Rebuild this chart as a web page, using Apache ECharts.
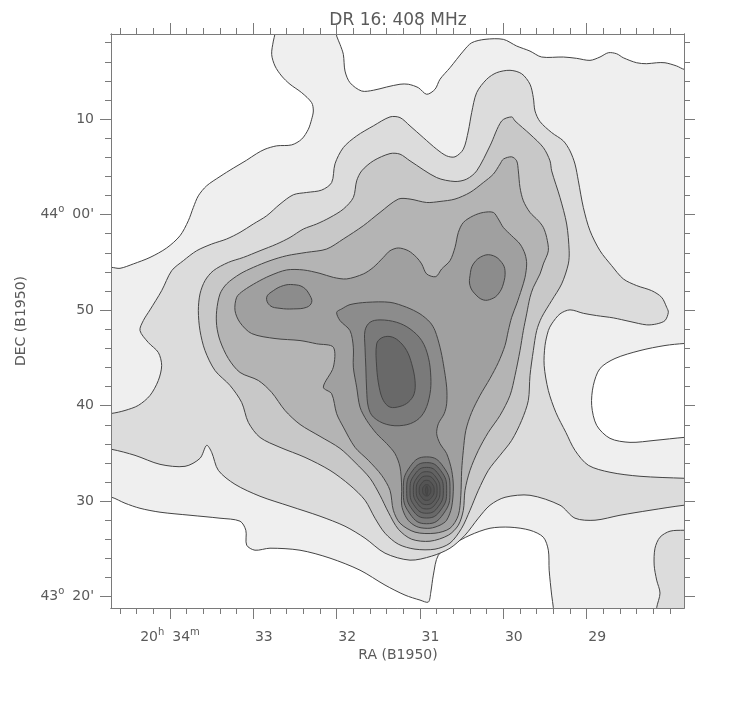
<!DOCTYPE html>
<html><head><meta charset="utf-8"><title>DR 16: 408 MHz</title>
<script src="https://cdn.jsdelivr.net/npm/echarts@6/dist/echarts.min.js"></script>
<style>html,body{margin:0;padding:0;background:#fff;}#chart{width:743px;height:716px;}</style>
</head><body><div id="chart"></div>
<script>
// ---- axes / ticks ----
const raMajor = [34, 33, 32, 31, 30, 29];
const raLabels = ['20h 34m', '33', '32', '31', '30', '29'];
const decMajor = [20, 30, 40, 50, 60, 70];           // arcmin above 43°00'
const decLabels = ["43° 20'", '30', '40', '50', "44° 00'", '10'];
const raMinor = []; for (let k = 140; k <= 173; k++) raMinor.push(k / 5);
const decMinor = []; for (let k = 10; k <= 39; k++) decMinor.push(2 * k);
const X_MIN = 27.832, X_MAX = 34.708, Y_MIN = 18.82, Y_MAX = 78.91;

// ---- contour level fills (0 = white background level) ----
const levelColors = ['#ffffff', '#efefef', '#dcdcdc', '#c8c8c8', '#b4b4b4', '#a0a0a0', '#8c8c8c',
  '#7a7a7a', '#696969', '#636363', '#5e5e5e', '#595959', '#545454', '#505050', '#4b4b4b'];

// ---- contour polygons [RA (min of time, 20h+), Dec (arcmin above 43°00')] ----
const white1 = [[34.80,79.8],[32.74,79.8],[32.74,78.95],[32.76,78.17],[32.78,76.78],[32.74,75.56],[32.66,74.51],[32.56,73.65],[32.42,72.77],[32.30,71.72],[32.28,70.85],[32.30,69.99],[32.34,68.94],[32.42,67.90],[32.54,67.30],[32.72,67.20],[32.86,66.85],[32.96,66.39],[33.08,65.70],[33.24,64.87],[33.40,63.99],[33.56,63.02],[33.66,61.97],[33.72,60.75],[33.78,59.36],[33.88,57.79],[34.04,56.51],[34.24,55.52],[34.44,54.84],[34.60,54.38],[34.70,54.48],[34.80,54.5]];
const white2 = [[32.00,79.8],[27.73,79.8],[27.73,75.21],[27.83,75.21],[27.92,75.56],[28.06,75.90],[28.16,75.90],[28.28,75.80],[28.40,75.90],[28.56,76.42],[28.64,76.84],[28.74,76.95],[28.84,76.50],[28.96,76.15],[29.12,76.36],[29.28,76.50],[29.54,76.50],[29.68,77.12],[29.84,77.65],[30.00,78.35],[30.22,78.35],[30.38,77.99],[30.48,77.12],[30.64,75.38],[30.76,74.17],[30.82,73.12],[30.92,72.60],[31.02,73.29],[31.14,73.65],[31.24,73.65],[31.40,73.36],[31.56,73.02],[31.70,72.94],[31.84,73.81],[31.90,75.03],[31.92,76.78],[31.96,77.83],[32.00,78.69],[32.00,78.95]];
const white3 = [[34.80,30.41],[34.70,30.41],[34.54,29.79],[34.36,29.26],[34.12,28.85],[33.76,28.53],[33.40,28.22],[33.16,27.91],[33.09,26.96],[33.08,25.40],[32.98,24.87],[32.80,25.08],[32.44,24.87],[32.08,24.04],[31.72,22.78],[31.42,21.22],[31.18,20.17],[31.00,19.65],[30.90,19.44],[30.87,20.49],[30.84,22.26],[30.78,24.35],[30.62,25.40],[30.40,26.44],[30.16,27.17],[29.92,27.28],[29.68,26.96],[29.52,26.23],[29.46,24.87],[29.45,22.78],[29.42,20.17],[29.40,18.85],[29.40,18.0],[34.80,18.0]];
const white4 = [[27.73,46.51],[27.83,46.51],[28.06,46.30],[28.36,45.77],[28.66,44.94],[28.84,43.89],[28.92,42.12],[28.94,40.03],[28.88,37.94],[28.72,36.58],[28.48,36.16],[28.18,36.37],[27.83,36.68],[27.73,36.68]];
const level2a = [[34.80,39.19],[34.70,39.19],[34.54,39.50],[34.38,40.03],[34.24,41.07],[34.14,42.64],[34.10,44.21],[34.14,45.57],[34.26,46.61],[34.36,47.86],[34.32,48.91],[34.24,50.03],[34.10,52.04],[33.98,54.13],[33.84,55.18],[33.68,56.22],[33.50,56.92],[33.32,57.45],[33.16,58.14],[33.00,59.02],[32.84,59.88],[32.68,61.10],[32.52,62.08],[32.36,62.32],[32.18,62.57],[32.06,63.36],[32.02,65.32],[31.92,67.02],[31.76,68.24],[31.56,69.29],[31.36,70.23],[31.24,70.16],[31.12,69.29],[30.96,68.06],[30.80,66.85],[30.68,66.15],[30.58,66.05],[30.48,66.85],[30.42,68.76],[30.38,70.68],[30.32,72.77],[30.20,74.17],[30.08,74.86],[29.92,75.11],[29.78,74.75],[29.68,73.65],[29.64,72.24],[29.62,70.85],[29.56,69.74],[29.42,68.59],[29.28,67.72],[29.20,66.67],[29.14,65.29],[29.10,63.54],[29.04,60.75],[28.96,58.31],[28.84,56.22],[28.70,54.66],[28.56,53.27],[28.40,52.57],[28.22,52.04],[28.10,51.34],[28.04,50.30],[28.02,49.78],[28.06,48.91],[28.16,48.56],[28.28,48.46],[28.48,48.81],[28.68,49.19],[28.88,49.43],[29.04,49.67],[29.20,50.03],[29.32,49.61],[29.42,48.56],[29.46,47.86],[29.50,46.30],[29.51,44.21],[29.46,41.59],[29.37,39.30],[29.25,37.21],[29.14,35.32],[28.98,33.76],[28.72,33.03],[28.36,32.61],[27.83,32.40],[27.73,32.40],[27.73,29.58],[27.83,29.58],[28.24,29.05],[28.60,28.53],[28.90,28.01],[29.14,28.22],[29.32,29.58],[29.68,30.62],[29.98,30.41],[30.16,29.58],[30.30,28.22],[30.46,26.44],[30.64,25.08],[30.86,24.25],[31.12,23.83],[31.42,24.56],[31.66,26.13],[31.90,27.38],[32.20,28.43],[32.56,29.47],[32.92,30.52],[33.22,31.77],[33.42,33.23],[33.50,35.12],[33.56,35.85],[33.64,34.49],[33.82,33.65],[34.12,33.86],[34.42,34.80],[34.70,35.43],[34.80,35.43]];
const level2b = [[27.73,26.96],[27.83,26.96],[28.00,26.86],[28.12,26.23],[28.18,25.08],[28.19,23.31],[28.16,21.74],[28.12,20.38],[28.16,18.85],[28.16,18.0],[27.73,18.0]];
const level3 = [[33.66,49.95],[33.64,51.70],[33.58,53.09],[33.48,54.13],[33.30,55.00],[33.12,55.52],[32.92,56.22],[32.72,56.92],[32.56,57.61],[32.40,58.49],[32.24,59.02],[32.08,59.70],[31.92,60.58],[31.80,61.79],[31.76,63.54],[31.70,64.58],[31.56,65.63],[31.36,66.39],[31.24,66.33],[31.12,65.63],[30.80,63.88],[30.58,63.47],[30.44,63.72],[30.32,64.58],[30.16,67.20],[30.02,69.81],[29.90,70.23],[29.86,69.81],[29.68,68.42],[29.52,67.02],[29.44,65.63],[29.42,64.58],[29.32,61.79],[29.24,59.02],[29.21,56.22],[29.22,54.84],[29.30,52.75],[29.42,51.00],[29.54,49.25],[29.60,47.86],[29.64,45.77],[29.68,43.16],[29.70,40.55],[29.78,38.46],[29.90,36.37],[30.04,34.80],[30.18,33.23],[30.30,31.14],[30.40,29.05],[30.50,27.17],[30.64,25.61],[30.82,24.98],[31.06,24.98],[31.26,25.50],[31.42,26.65],[31.54,28.22],[31.66,30.10],[31.84,31.67],[32.08,33.23],[32.38,34.59],[32.68,35.64],[32.92,36.68],[33.06,38.25],[33.14,40.34],[33.28,42.12],[33.46,43.68],[33.58,45.77],[33.64,47.86]];
const level4 = [[33.44,49.95],[33.40,51.70],[33.32,52.75],[33.16,53.79],[33.00,54.48],[32.80,55.18],[32.60,55.70],[32.36,56.05],[32.12,56.40],[31.92,57.45],[31.68,58.84],[31.48,60.23],[31.26,61.63],[31.12,61.63],[30.92,61.27],[30.76,61.38],[30.58,61.63],[30.40,62.32],[30.24,63.36],[30.12,64.24],[30.04,65.29],[30.00,65.81],[29.90,66.05],[29.84,65.63],[29.82,64.58],[29.80,62.84],[29.76,61.45],[29.68,60.23],[29.58,59.36],[29.52,58.66],[29.48,57.61],[29.46,56.22],[29.52,54.84],[29.56,53.79],[29.64,52.39],[29.68,51.35],[29.72,49.61],[29.76,47.86],[29.80,45.77],[29.86,43.16],[29.92,41.07],[30.04,38.98],[30.18,37.21],[30.30,35.32],[30.40,33.23],[30.46,31.14],[30.48,29.05],[30.54,27.49],[30.66,26.44],[30.88,25.81],[31.10,26.02],[31.26,27.07],[31.38,28.85],[31.48,30.62],[31.60,32.40],[31.78,34.07],[31.96,35.53],[32.20,36.79],[32.44,38.04],[32.62,39.50],[32.78,41.39],[32.94,42.64],[33.16,43.48],[33.30,44.94],[33.40,46.82],[33.44,48.39]];
const level5 = [[33.22,49.95],[33.20,51.35],[33.12,52.04],[32.96,52.91],[32.80,53.61],[32.60,54.21],[32.40,54.21],[32.20,53.85],[32.04,53.43],[31.88,53.27],[31.68,53.79],[31.56,54.48],[31.44,55.52],[31.36,56.22],[31.26,56.51],[31.14,56.22],[31.04,55.52],[30.98,54.84],[30.92,53.79],[30.81,53.51],[30.74,54.31],[30.64,55.18],[30.58,56.57],[30.54,58.14],[30.48,59.18],[30.36,59.88],[30.24,60.23],[30.12,60.23],[30.06,59.54],[30.00,58.66],[29.90,57.79],[29.80,56.92],[29.74,55.88],[29.72,54.84],[29.74,53.43],[29.78,52.22],[29.84,50.65],[29.90,49.25],[29.94,47.86],[29.98,46.30],[30.06,44.52],[30.16,42.85],[30.28,41.07],[30.38,39.30],[30.45,37.42],[30.48,35.32],[30.50,33.23],[30.51,30.62],[30.54,28.53],[30.64,27.17],[30.82,26.65],[31.06,26.76],[31.24,27.70],[31.32,29.05],[31.36,31.14],[31.46,32.71],[31.62,34.28],[31.78,35.64],[31.92,37.76],[32.00,39.16],[32.06,41.25],[32.16,41.94],[32.04,44.03],[32.04,46.12],[32.24,46.48],[32.44,46.82],[32.74,47.03],[33.02,47.55],[33.16,48.70]];
const level6a = [[32.84,51.35],[32.76,52.04],[32.64,52.57],[32.52,52.67],[32.40,52.39],[32.32,51.52],[32.30,50.82],[32.36,50.30],[32.52,50.13],[32.68,50.19],[32.80,50.48]];
const level6b = [[30.40,53.61],[30.36,54.84],[30.24,55.70],[30.12,55.70],[30.02,55.00],[29.98,54.13],[30.00,52.75],[30.06,51.70],[30.14,51.18],[30.24,51.07],[30.34,51.70],[30.40,52.57]];
const level6c = [[32.00,49.78],[31.94,50.13],[31.84,50.58],[31.64,50.82],[31.36,50.82],[31.16,50.30],[31.00,49.61],[30.88,48.73],[30.82,47.86],[30.76,46.12],[30.72,44.39],[30.68,41.94],[30.68,40.20],[30.71,39.16],[30.78,38.11],[30.80,37.07],[30.76,36.03],[30.68,34.98],[30.62,33.23],[30.60,31.49],[30.62,29.40],[30.68,28.01],[30.76,27.49],[30.88,27.17],[31.02,27.28],[31.12,27.80],[31.18,28.53],[31.22,29.58],[31.22,31.49],[31.24,33.58],[31.30,34.98],[31.40,36.03],[31.52,37.07],[31.64,38.46],[31.72,39.85],[31.76,41.94],[31.80,44.03],[31.80,46.12],[31.84,47.86],[31.96,48.91]];
const level7a = [[31.66,47.86],[31.60,48.73],[31.48,48.98],[31.28,48.73],[31.12,48.04],[30.98,46.82],[30.90,45.07],[30.87,42.98],[30.88,41.25],[30.94,39.50],[31.04,38.46],[31.20,37.94],[31.40,38.04],[31.56,38.81],[31.62,39.85],[31.64,41.60],[31.65,44.03],[31.66,46.12]];
const level8a = [[31.52,46.48],[31.46,47.10],[31.36,47.24],[31.26,46.82],[31.16,45.77],[31.10,44.39],[31.06,42.64],[31.07,41.25],[31.14,40.37],[31.24,39.92],[31.36,39.85],[31.44,40.55],[31.49,41.94],[31.52,44.03]];
// compact source rings
const ring7 = [[30.92,34.64],[30.72,33.61],[30.64,31.14],[30.72,28.67],[30.92,27.64],[31.12,28.67],[31.20,31.14],[31.12,33.61]];
const ring8 = [[30.92,34.04],[30.75,33.19],[30.68,31.14],[30.75,29.09],[30.92,28.24],[31.09,29.09],[31.16,31.14],[31.09,33.19]];
const ring9 = [[30.92,33.54],[30.78,32.84],[30.72,31.14],[30.78,29.44],[30.92,28.74],[31.06,29.44],[31.12,31.14],[31.06,32.84]];
const ring10 = [[30.92,33.09],[30.81,32.52],[30.76,31.14],[30.81,29.76],[30.92,29.19],[31.03,29.76],[31.08,31.14],[31.03,32.52]];
const ring11 = [[30.92,32.64],[30.83,32.20],[30.795,31.14],[30.83,30.08],[30.92,29.64],[31.01,30.08],[31.045,31.14],[31.01,32.20]];
const ring12 = [[30.92,32.19],[30.86,31.88],[30.83,31.14],[30.86,30.40],[30.92,30.09],[30.98,30.40],[31.01,31.14],[30.98,31.88]];
const ring13 = [[30.92,31.74],[30.885,31.56],[30.87,31.14],[30.885,30.72],[30.92,30.54],[30.955,30.72],[30.97,31.14],[30.955,31.56]];
const ring14 = [[30.92,31.6],[30.905,31.14],[30.92,30.6],[30.935,31.14]];

const polys = [
  [white1, 0, 0.3], [white2, 0, 0.3], [white3, 0, 0.3], [white4, 0, 0.3],
  [level2a, 2, 0.3], [level2b, 2, 0.3], [level3, 3, 0.3], [level4, 4, 0.3], [level5, 5, 0.3],
  [level6a, 6, 0.4], [level6b, 6, 0.4], [level6c, 6, 0.3], [level7a, 7, 0.35], [level8a, 8, 0.35],
  [ring7, 7, 0.5], [ring8, 8, 0.5], [ring9, 9, 0.5], [ring10, 10, 0.5], [ring11, 11, 0.5],
  [ring12, 12, 0.5], [ring13, 13, 0.5], [ring14, 14, 0.3]
];

const AX = '#7a7a7a', TXT = '#5a5a5a', LINE = '#444';
const FONT = 'DejaVu Sans';

function raFmt(v) {
  const lab = raLabels[raMajor.indexOf(v)];
  const m = /^(\d+)h (\d+)m$/.exec(lab);
  if (m) return '{n|' + m[1] + '}{s|h}{g|}{n|' + m[2] + '}{s|m}';
  return '{p|}{n|' + lab + '}';
}
function decFmt(v) {
  const lab = decLabels[decMajor.indexOf(Math.round(v))];
  const m = /^(\d+)° (.+)$/.exec(lab);
  if (m) return '{n|' + m[1] + '}{s|o}{g|}{n|' + m[2] + '}';
  return '{n|' + lab + '}';
}
const rich = {
  n: {fontSize: 14, fontFamily: FONT, color: TXT, lineHeight: 20},
  s: {fontSize: 10, fontFamily: FONT, color: TXT, lineHeight: 9, verticalAlign: 'top'},
  g: {width: 8},
  p: {width: 21}
};

function xAx(grid, pos, vals, len, label) {
  return {
    type: 'value', gridIndex: grid, position: pos, min: X_MIN, max: X_MAX, inverse: true, z: 10,
    axisLine: {show: true, onZero: false, lineStyle: {color: AX, width: 1}},
    axisTick: {show: true, customValues: vals, length: len, lineStyle: {color: AX, width: 1}},
    axisLabel: label ? {show: true, customValues: raMajor, formatter: raFmt, rich: rich, margin: 19, align: 'center'} : {show: false},
    splitLine: {show: false}, minorTick: {show: false}
  };
}
function yAx(grid, pos, vals, len, label) {
  return {
    type: 'value', gridIndex: grid, position: pos, min: Y_MIN, max: Y_MAX, z: 10,
    axisLine: {show: true, onZero: false, lineStyle: {color: AX, width: 1}},
    axisTick: {show: true, customValues: vals, length: len, lineStyle: {color: AX, width: 1}},
    axisLabel: label ? {show: true, customValues: decMajor, formatter: decFmt, rich: rich, margin: 17} : {show: false},
    splitLine: {show: false}, minorTick: {show: false}
  };
}

const chart = echarts.init(document.getElementById('chart'), null, {renderer: 'canvas'});
chart.setOption({
  animation: false,
  backgroundColor: '#ffffff',
  grid: [
    {left: 111, right: 59, top: 34, bottom: 108, show: true, backgroundColor: levelColors[1], borderWidth: 0},
    {left: 111, right: 59, top: 34, bottom: 108, show: false}
  ],
  xAxis: [
    xAx(0, 'bottom', raMajor, 11, true),
    xAx(0, 'top', raMajor, 11, false),
    xAx(1, 'bottom', raMinor, 6, false),
    xAx(1, 'top', raMinor, 6, false)
  ],
  yAxis: [
    yAx(0, 'left', decMajor, 11, true),
    yAx(0, 'right', decMajor, 11, false),
    yAx(1, 'left', decMinor, 6, false),
    yAx(1, 'right', decMinor, 6, false)
  ],
  graphic: [
    {type: 'text', x: 398, y: 21, style: {text: 'DR 16: 408 MHz', fontSize: 17, fontFamily: FONT, fill: TXT, align: 'center', verticalAlign: 'middle'}},
    {type: 'text', x: 398, y: 655, style: {text: 'RA (B1950)', fontSize: 14, fontFamily: FONT, fill: TXT, align: 'center', verticalAlign: 'middle'}},
    {type: 'text', x: 21.5, y: 321, rotation: Math.PI / 2, style: {text: 'DEC (B1950)', fontSize: 14, fontFamily: FONT, fill: TXT, align: 'center', verticalAlign: 'middle'}}
  ],
  series: [{
    type: 'custom', coordinateSystem: 'cartesian2d', xAxisIndex: 0, yAxisIndex: 0, clip: true, z: 2,
    data: polys.map((p, i) => [p[0][0][0], p[0][0][1], i]),
    renderItem: function (params, api) {
      const p = polys[params.dataIndex];
      const pts = p[0].map(function (d) { return api.coord(d); });
      return {
        type: 'polygon',
        shape: {points: pts, smooth: p[2]},
        style: {fill: levelColors[p[1]], stroke: LINE, lineWidth: 1}
      };
    }
  }]
});
</script></body></html>
